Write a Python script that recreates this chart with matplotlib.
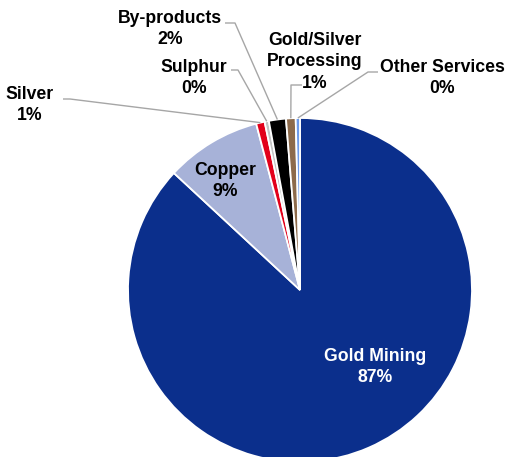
import matplotlib
matplotlib.use("Agg")
import matplotlib.pyplot as plt
import numpy as np

categories = ["Gold Mining", "Copper", "Silver", "Sulphur", "By-products",
              "Gold/Silver\nProcessing", "Other Services"]
values = [86.9, 9.0, 0.8, 0.4, 1.6, 0.9, 0.4]
colors = ["#0B2F8C", "#A7B2D8", "#E2001A", "#C3C3C3", "#000000", "#8C6A4B", "#6E9BEA"]

plt.rcParams['font.family'] = ['Liberation Sans', 'DejaVu Sans']

W, H = 506, 457
fig = plt.figure(figsize=(W / 100, H / 100), dpi=100)
ax = fig.add_axes([0, 0, 1, 1])

def Y(y):
    return H - y

cx, cy, R = 300, Y(290), 172
wedges, _ = ax.pie(values, colors=colors, startangle=90, counterclock=False,
                   center=(cx, cy), radius=R,
                   wedgeprops=dict(edgecolor='white', linewidth=1.3))
ax.set_xlim(0, W)
ax.set_ylim(0, H)
ax.set_aspect('equal')
ax.axis('off')

fs = 12.7
ls = 1.35
labels = [f"{c}\n{v:.0f}%" for c, v in zip(categories, values)]

# inside labels
ax.text(375, Y(367), labels[0], color='white', fontsize=fs, fontweight='bold',
        ha='center', va='center', linespacing=ls)
ax.text(225, Y(181), labels[1], color='black', fontsize=fs, fontweight='bold',
        ha='center', va='center', linespacing=ls)

# outside labels: (text x, text y, elbow x, elbow y, line start x)
outside = {
    2: (30, 105, 70, 99, 63),
    3: (194, 78, 238, 70, 231),
    4: (170, 29, 235, 23, 225),
    5: (315, 62, 291, 85, 302),
    6: (442, 78, 368, 72, 378),
}
for i, (tx, ty, ex, ey, sx) in outside.items():
    w = wedges[i]
    th = np.deg2rad((w.theta1 + w.theta2) / 2)
    px, py = cx + R * np.cos(th), cy + R * np.sin(th)
    ax.plot([sx, ex, px], [Y(ey), Y(ey), py], color='#A6A6A6', lw=1.0,
            solid_capstyle='butt')
    ax.text(tx, Y(ty), labels[i], color='black', fontsize=fs, fontweight='bold',
            ha='center', va='center', linespacing=ls)

fig.savefig("out.png", dpi=100)
